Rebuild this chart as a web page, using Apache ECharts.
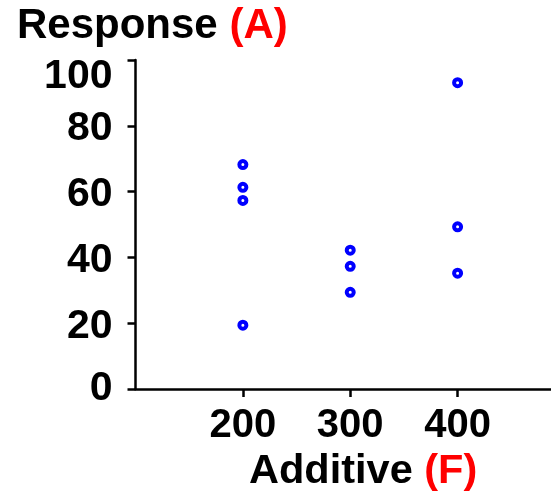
<!DOCTYPE html>
<html><head><meta charset="utf-8">
<script src="https://cdn.jsdelivr.net/npm/echarts@6/dist/echarts.min.js"></script>
<style>html,body{margin:0;padding:0;background:#fff}#c{width:551px;height:499px}</style>
</head><body><div id="c"></div>
<script>
const additiveLevels = [200, 200, 200, 200, 300, 300, 300, 400, 400, 400];
const responseValues = [68.2, 61.3, 57.3, 19.4, 42.2, 37.3, 29.4, 93.1, 49.3, 35.2];
const xTicks = [200, 300, 400];
const yTicks = [0, 20, 40, 60, 80, 100];

const FONT = '"Liberation Sans", Arial, sans-serif';
function richTitle(size) {
  return {
    a: {fontSize: size, lineHeight: 40, fontWeight: 'bold', color: '#000', fontFamily: FONT},
    b: {fontSize: size, lineHeight: 40, fontWeight: 'bold', color: '#ff0000', fontFamily: FONT}
  };
}
const chart = echarts.init(document.getElementById('c'), null, {renderer: 'canvas'});
chart.setOption({
  animation: false,
  backgroundColor: '#fff',
  textStyle: {fontFamily: FONT},
  title: [{
    text: '{a|Response }{b|(A)}', left: 17, top: 6, padding: 0,
    textStyle: {rich: richTitle(42)}
  }, {
    text: '{a|Additive }{b|(F)}', left: 249, top: 452, padding: 0,
    textStyle: {rich: richTitle(41.5)}
  }],
  grid: {left: 135.5, right: 0, top: 60, bottom: 110, containLabel: false},
  xAxis: {
    type: 'value', min: 100, max: 487, interval: 100,
    splitLine: {show: false},
    axisLine: {onZero: false, lineStyle: {color: '#000', width: 2.5}},
    axisTick: {show: true, length: 8, lineStyle: {color: '#000', width: 2.5}, customValues: xTicks},
    axisLabel: {customValues: xTicks, fontSize: 40, lineHeight: 40, fontWeight: 'bold', color: '#000', margin: 17, fontFamily: FONT}
  },
  yAxis: {
    type: 'value', min: 0, max: 100, interval: 20,
    splitLine: {show: false},
    axisLine: {show: true, onZero: false, lineStyle: {color: '#000', width: 2.5}},
    axisTick: {show: true, length: 8, lineStyle: {color: '#000', width: 2.5}, customValues: yTicks},
    axisLabel: {
      customValues: yTicks, margin: 23,
      formatter: v => v === 100 ? '{t|' + v + '}' : (v === 0 ? '{z|' + v + '}' : '{n|' + v + '}'),
      rich: {
        t: {fontSize: 41, lineHeight: 41, fontWeight: 'bold', color: '#000', fontFamily: FONT, padding: [34, 0, 0, 0]},
        n: {fontSize: 41, lineHeight: 41, fontWeight: 'bold', color: '#000', fontFamily: FONT, padding: [6, 0, 0, 0]},
        z: {fontSize: 41, lineHeight: 41, fontWeight: 'bold', color: '#000', fontFamily: FONT}
      }
    }
  },
  series: [{
    type: 'scatter',
    data: additiveLevels.map((x, i) => [x, responseValues[i]]),
    symbol: 'circle', symbolSize: 7,
    itemStyle: {color: '#fff', borderColor: '#0000ff', borderWidth: 4, opacity: 1}
  }]
});
</script></body></html>
